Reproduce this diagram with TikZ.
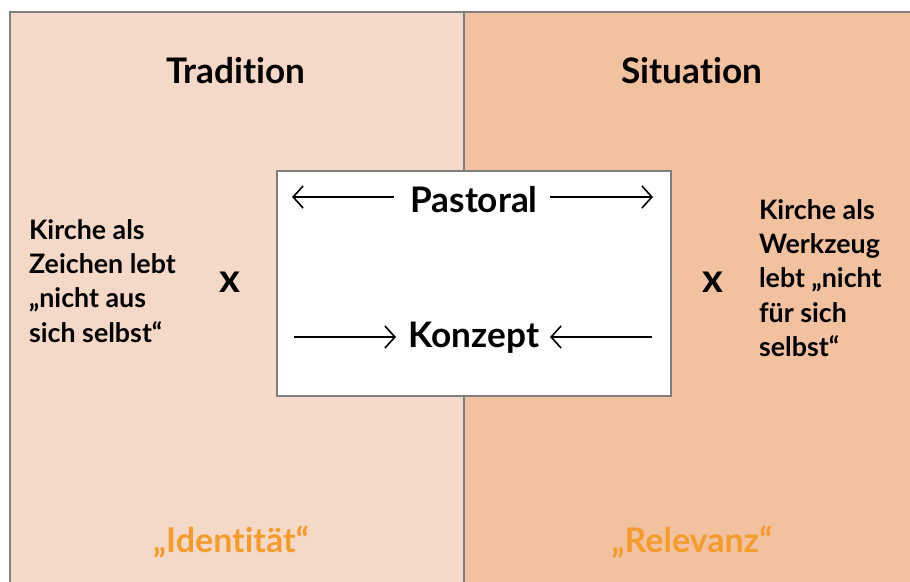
\documentclass[tikz,border=0pt]{standalone}
\usepackage{fontspec}
\setmainfont{Lato}[Ligatures=NoCommon]
\usetikzlibrary{arrows.meta}
\definecolor{tradfill}{HTML}{F5D9C8}
\definecolor{sitfill}{HTML}{F2C19F}
\definecolor{keyorange}{HTML}{F39C2B}
\definecolor{rulegray}{HTML}{7F7F7F}
\tikzset{
  head/.style={font=\bfseries\fontsize{17.6}{22}\selectfont, anchor=base},
  side/.style={font=\bfseries\fontsize{13.4}{17.1}\selectfont, align=left, anchor=west},
  key/.style={font=\bfseries\fontsize{17}{22}\selectfont, text=keyorange, anchor=base},
  cross/.style={font=\bfseries\fontsize{20}{22}\selectfont, anchor=base},
  flow/.style={-{Straight Barb[length=5pt,width=11pt]}, line width=0.8pt},
}

\begin{document}
\begin{tikzpicture}[x=0.5pt,y=-0.5pt]
\useasboundingbox (0,0) rectangle (910,582);
% the two fields
\fill [tradfill] (10,12) rectangle (464,582);
\fill [sitfill] (464,12) rectangle (910,582);
\draw [rulegray, line width=0.6pt] (10,582) -- (10,12) -- (910,12);
\draw [rulegray, line width=0.6pt] (464,12) -- (464,582);

\node [head] (trad) at (236,84) {Tradition};
\node [head] (sit) at (692,84) {Situation};

% middle box
\draw [rulegray, fill=white, line width=0.6pt] (277,171) rectangle (671,396);
\node [head] (past) at (474,213) {Pastoral};
\node [head] (konz) at (474,348) {Konzept};
\coordinate (pl1) at (394,197); \coordinate (pl2) at (292,197);
\coordinate (pr1) at (550,197); \coordinate (pr2) at (653,197);
\coordinate (kl1) at (294,337); \coordinate (kl2) at (396,337);
\coordinate (kr1) at (652,337); \coordinate (kr2) at (550,337);
\draw [flow] (pl1) -- (pl2);
\draw [flow] (pr1) -- (pr2);
\draw [flow] (kl1) -- (kl2);
\draw [flow] (kr1) -- (kr2);

% sides
\node [side] (lside) at (22,281) {Kirche als\\Zeichen lebt\\„nicht aus\\sich selbst“};
\node [cross] (lx) at (230,293) {x};
\node [side] (rside) at (752,278) {Kirche als\\Werkzeug\\lebt „nicht\\für sich\\selbst“};
\node [cross] (rx) at (713,293) {x};

\node [key] (ident) at (231,552) {„Identität“};
\node [key] (relev) at (692,552) {„Relevanz“};
\end{tikzpicture}
\end{document}
